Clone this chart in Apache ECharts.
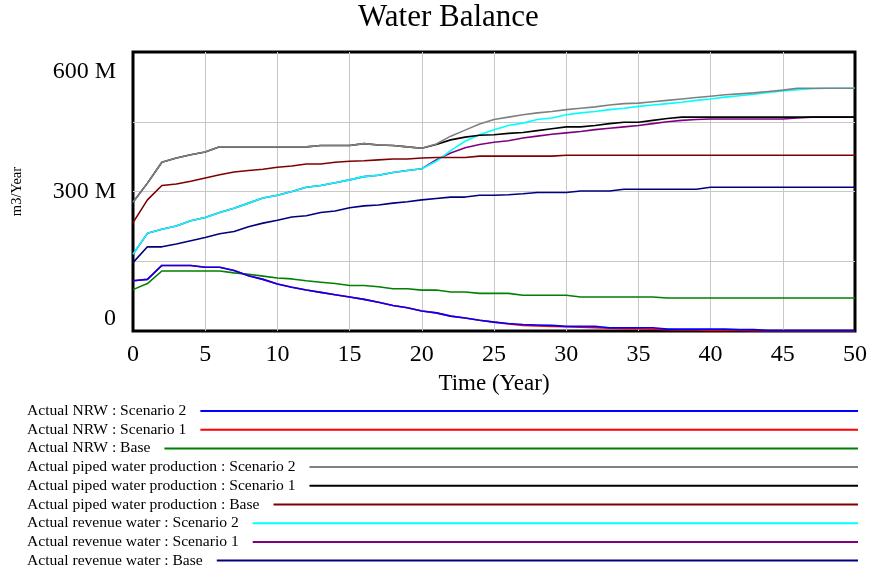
<!DOCTYPE html>
<html><head><meta charset="utf-8">
<script src="https://cdn.jsdelivr.net/npm/echarts@6/dist/echarts.min.js"></script>
<style>html,body{margin:0;padding:0;background:#fff}#c{width:871px;height:570px}</style>
</head><body><div id="c"></div>
<script>
// ---- data (values in millions of m3/Year), time in years ----
const years = [0,1,2,3,4,5,6,7,8,9,10,11,12,13,14,15,16,17,18,19,20,21,22,23,24,25,26,27,28,29,30,31,32,33,34,35,36,37,38,39,40,41,42,43,44,45,46,47,48,49,50];
const yTickLabels = {0: '0', 300: '300 M', 600: '600 M'};

const nrwScenario2 = [108,111,141,141,141,137,137,130,119,111,101,94,88,83,78,73,68,62,55,50,43,39,32,28,23,19,16,14,13,12,10,10,10,7,7,7,7,4,4,4,4,4,3,3,1,1,1,1,1,1,1];
const nrwScenario1 = [108,111,141,141,141,137,137,130,119,111,101,94,88,83,78,73,68,62,55,50,43,39,32,28,23,19,15,12,11,10,9,8,7,6,5,5,4,3,2,2,1,1,1,0,0,0,0,0,0,0,0];
const nrwBase      = [89,102,129,129,129,129,129,125,122,118,114,112,108,105,102,98,98,95,91,91,88,88,84,84,81,81,81,77,77,77,77,73,73,73,73,73,73,71,71,71,71,71,71,71,71,71,71,71,71,71,71];
const pipedScenario2 = [277,318,363,372,379,385,396,396,396,396,396,396,396,399,399,399,403,400,399,396,393,402,419,432,445,455,460,465,469,472,476,479,482,486,489,490,493,496,499,502,505,508,510,512,515,518,522,522,522,522,522];
const pipedScenario1 = [277,318,363,372,379,385,396,396,396,396,396,396,396,399,399,399,403,400,399,396,393,401,411,417,421,422,425,427,431,435,439,439,442,446,449,449,453,457,460,460,460,460,460,460,460,460,460,460,460,460,460];
const pipedBase      = [233,282,313,316,322,329,336,342,345,348,352,355,359,359,363,365,366,368,370,370,372,373,373,373,376,376,376,376,376,376,378,378,378,378,378,378,378,378,378,378,378,378,378,378,378,378,378,378,378,378,378];
const revScenario2 = [165,210,219,226,237,244,255,264,275,286,292,300,309,313,319,325,332,335,341,345,349,365,388,408,422,433,442,447,455,458,465,469,472,476,479,483,486,489,492,496,499,503,506,509,513,516,519,521,522,522,522];
const revScenario1 = [165,210,219,226,237,244,255,264,275,286,292,300,309,313,319,325,332,335,341,345,349,368,383,394,401,406,409,415,419,423,426,429,433,436,439,442,446,450,453,455,456,456,456,456,456,456,458,460,460,460,460];
const revBase      = [147,181,181,187,194,201,209,214,224,232,238,245,248,255,258,265,269,271,275,278,282,285,288,288,292,292,293,295,298,298,298,301,301,301,305,305,305,305,305,305,309,309,309,309,309,309,309,309,309,309,309];

const legendNames = [
  'Actual NRW : Scenario 2',
  'Actual NRW : Scenario 1',
  'Actual NRW : Base',
  'Actual piped water production : Scenario 2',
  'Actual piped water production : Scenario 1',
  'Actual piped water production : Base',
  'Actual revenue water : Scenario 2',
  'Actual revenue water : Scenario 1',
  'Actual revenue water : Base'
];
const legendValues = [nrwScenario2, nrwScenario1, nrwBase, pipedScenario2, pipedScenario1, pipedBase, revScenario2, revScenario1, revBase];
const legendColors = ['#0000ff','#ff0000','#008000','#808080','#000000','#800000','#00ffff','#800080','#000080'];

// ---- layout / styles ----
const FAMILY = '"Liberation Serif", "Times New Roman", serif';
const LEG_SIZE = 15.6, LEG_LEFT = 27, LEG_END = 858, LEG_Y0 = 411, LEG_STEP = 18.7, LEG_GAP = 14;

// draw order: Base first, Scenario 2 on top
const drawOrder = [8,7,6,5,4,3,2,1,0];
const series = drawOrder.map(i => ({
  name: legendNames[i],
  type: 'line',
  data: years.map((t, k) => [t, legendValues[i][k]]),
  showSymbol: false,
  symbol: 'none',
  lineStyle: { color: legendColors[i], width: 1.6 },
  itemStyle: { color: legendColors[i] },
  emphasis: { disabled: true },
  animation: false
}));

const ctx = document.createElement('canvas').getContext('2d');
ctx.font = LEG_SIZE + 'px ' + FAMILY;
const legends = legendNames.map((n, i) => {
  const w = ctx.measureText(n).width;
  return {
    data: [n], left: LEG_LEFT, top: LEG_Y0 + i * LEG_STEP - 8,
    orient: 'horizontal', align: 'right', padding: 0,
    icon: 'rect', itemWidth: LEG_END - LEG_LEFT - w - LEG_GAP, itemHeight: 2,
    itemStyle: { borderWidth: 0 },
    textStyle: { fontFamily: FAMILY, fontSize: LEG_SIZE, color: '#000', padding: [0, LEG_GAP - 5, 0, 0] },
    selectedMode: false
  };
});

const chart = echarts.init(document.getElementById('c'), null, { renderer: 'canvas' });
chart.setOption({
  animation: false,
  backgroundColor: '#fff',
  title: {
    text: 'Water Balance', left: 358, top: 2, padding: 0,
    textStyle: { fontFamily: FAMILY, fontSize: 31, fontWeight: 'normal', color: '#000' }
  },
  legend: legends,
  grid: { left: 133, right: 16, top: 52, bottom: 239, show: true, borderColor: '#000', borderWidth: 3, containLabel: false },
  xAxis: {
    type: 'value', min: 0, max: 50, interval: 5,
    name: 'Time (Year)', nameLocation: 'middle', nameGap: 41,
    nameTextStyle: { fontFamily: FAMILY, fontSize: 23, color: '#000' },
    axisLine: { show: false }, axisTick: { show: false },
    axisLabel: { fontFamily: FAMILY, fontSize: 24, color: '#000', margin: 12, showMinLabel: true, showMaxLabel: true },
    splitLine: { show: true, showMinLine: false, showMaxLine: false, lineStyle: { color: '#c8c8c8', width: 1 } }
  },
  yAxis: {
    type: 'value', min: 0, max: 600, interval: 150,
    name: 'm3/Year', nameLocation: 'middle', nameRotate: 90, nameGap: 108,
    nameTextStyle: { fontFamily: FAMILY, fontSize: 14.5, color: '#000' },
    axisLine: { show: false }, axisTick: { show: false },
    axisLabel: {
      fontFamily: FAMILY, fontSize: 24, color: '#000', margin: 17,
      showMinLabel: true, showMaxLabel: true,
      formatter: v => v === 0 ? '{v|' + yTickLabels[0] + '}\n{gb| }'
        : v === 600 ? '{gt| }\n{v|' + yTickLabels[600] + '}'
        : (yTickLabels[v] ? '{v|' + yTickLabels[v] + '}' : ''),
      rich: {
        v: { fontFamily: FAMILY, fontSize: 24, color: '#000', lineHeight: 24 },
        gt: { fontSize: 10, lineHeight: 40 },
        gb: { fontSize: 10, lineHeight: 24 }
      }
    },
    splitLine: { show: true, showMinLine: false, showMaxLine: false, lineStyle: { color: '#c8c8c8', width: 1 } }
  },
  series: series
});
</script>
</body></html>
